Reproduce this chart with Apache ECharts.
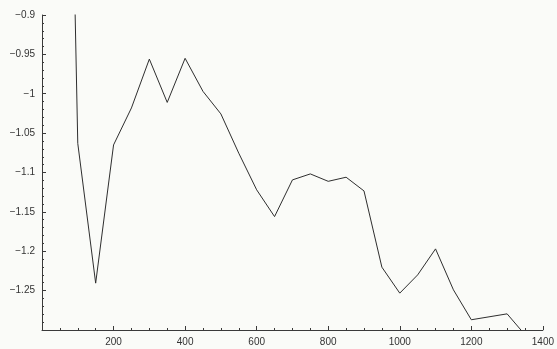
<!DOCTYPE html>
<html>
<head>
<meta charset="utf-8">
<script src="https://cdn.jsdelivr.net/npm/echarts@6/dist/echarts.min.js"></script>
<style>
  html, body { margin: 0; padding: 0; background: #fafbf8; }
  #chart { width: 557px; height: 349px; }
</style>
</head>
<body>
<div id="chart"></div>
<script>
// Sample positions and measured values
const xValues = [50, 100, 150, 200, 250, 300, 350, 400, 450, 500, 550, 600, 650, 700,
                 750, 800, 850, 900, 950, 1000, 1050, 1100, 1150, 1200, 1300, 1350];
const yValues = [0.05, -1.063, -1.2405, -1.065, -1.018, -0.956, -1.011, -0.955, -0.997,
                 -1.0256, -1.0755, -1.122, -1.156, -1.1094, -1.1018, -1.1112, -1.106,
                 -1.1234, -1.2202, -1.2532, -1.23, -1.197, -1.249, -1.287, -1.2795, -1.306];

// Tick labels shown on each axis
const xTickLabels = [200, 400, 600, 800, 1000, 1200, 1400];
const yTickLabels = [-0.9, -0.95, -1, -1.05, -1.1, -1.15, -1.2, -1.25];

const points = xValues.map((x, i) => [x, yValues[i]]);

const axisColor = '#3a3a3a';
const labelStyle = { color: '#333', fontFamily: 'Liberation Sans, Arial, sans-serif', fontSize: 10 };

function fmtX(v) {
  return xTickLabels.some(t => Math.abs(t - v) < 1e-6) ? String(v) : '';
}
function fmtY(v) {
  const hit = yTickLabels.find(t => Math.abs(t - v) < 1e-6);
  return hit === undefined ? '' : String(hit).replace('-', '\u2212');
}

const chart = echarts.init(document.getElementById('chart'), null, { renderer: 'canvas' });
chart.setOption({
  animation: false,
  backgroundColor: '#fafbf8',
  grid: { left: 42, right: 8, top: 15, bottom: 19, containLabel: false },
  xAxis: {
    type: 'value',
    min: 0, max: 1400, interval: 200,
    axisLine: { show: true, lineStyle: { color: axisColor, width: 1 } },
    axisTick: { show: true, inside: true, length: 4, lineStyle: { color: axisColor } },
    minorTick: { show: true, splitNumber: 4, length: 2, lineStyle: { color: axisColor } },
    splitLine: { show: false },
    axisLabel: Object.assign({ margin: 7, formatter: fmtX, showMinLabel: true, showMaxLabel: true }, labelStyle)
  },
  yAxis: {
    type: 'value',
    min: -1.3, max: -0.9, interval: 0.05,
    axisLine: { show: true, lineStyle: { color: axisColor, width: 1 } },
    axisTick: { show: true, inside: true, length: 4, lineStyle: { color: axisColor } },
    minorTick: { show: true, splitNumber: 5, length: 2, lineStyle: { color: axisColor } },
    splitLine: { show: false },
    axisLabel: Object.assign({ margin: 7, formatter: fmtY }, labelStyle)
  },
  series: [{
    type: 'line',
    data: points,
    showSymbol: false,
    clip: true,
    lineStyle: { color: '#2e2e2e', width: 1 }
  }]
});
</script>
</body>
</html>
